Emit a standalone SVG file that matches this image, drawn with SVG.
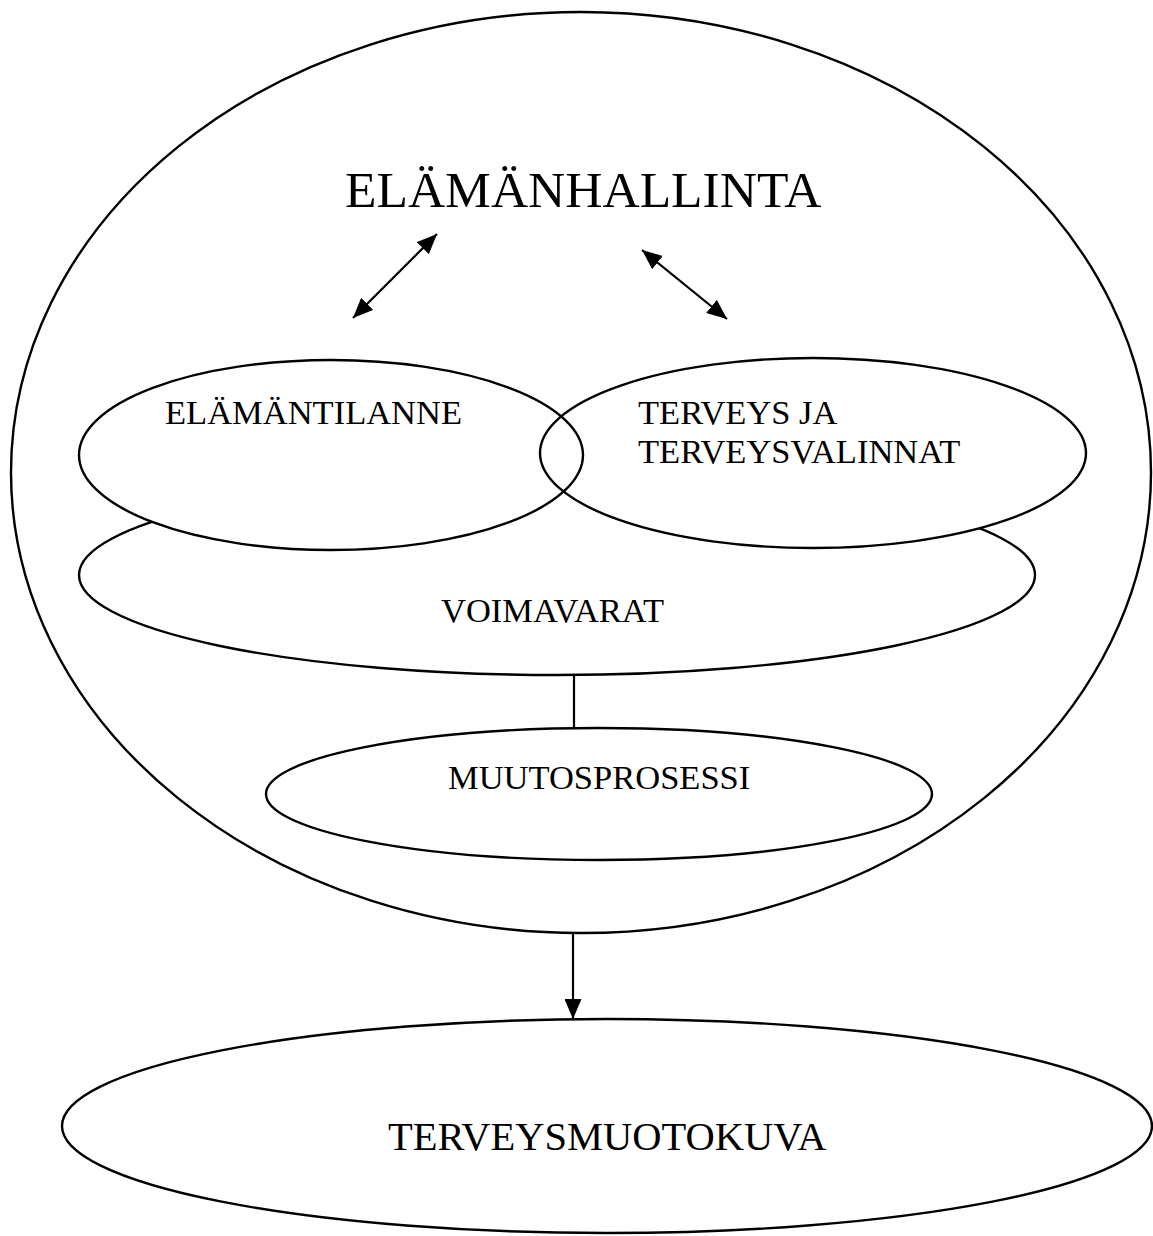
<svg xmlns="http://www.w3.org/2000/svg" width="1153" height="1236" viewBox="0 0 1153 1236">
<style>
.s{fill:none;stroke:#000;stroke-width:2.4}
.t{font-family:"Liberation Serif","Times New Roman",serif;fill:#000;font-size:34.5px}
.c{stroke:#000;stroke-width:2.2;fill:none}
</style>
<defs>
<marker id="ab" viewBox="0 0 10 10" refX="10" refY="5" markerWidth="20" markerHeight="17" markerUnits="userSpaceOnUse" orient="auto-start-reverse" preserveAspectRatio="none">
<path d="M0,0 L10,5 L0,10 z" fill="#000"/>
</marker>
<mask id="m">
<rect x="0" y="0" width="1153" height="1236" fill="#fff"/>
<ellipse cx="331" cy="455" rx="252" ry="95" fill="#000"/>
<ellipse cx="813" cy="453" rx="273" ry="95" fill="#000"/>
</mask>
</defs>
<rect width="1153" height="1236" fill="#fff"/>
<g id="elamanhallinta">
<ellipse class="s" cx="581" cy="472.5" rx="570" ry="460.5"/>
<text class="t" x="345" y="207" style="font-size:51.5px">ELÄMÄNHALLINTA</text>
</g>
<g id="voimavarat">
<ellipse class="s" cx="557" cy="575" rx="478" ry="100" mask="url(#m)"/>
<text class="t" x="441" y="622">VOIMAVARAT</text>
</g>
<g id="elamantilanne">
<ellipse class="s" cx="331" cy="455" rx="252" ry="95"/>
<text class="t" x="165" y="424">ELÄMÄNTILANNE</text>
</g>
<g id="terveys">
<ellipse class="s" cx="813" cy="453" rx="273" ry="95"/>
<text class="t" x="638" y="424">TERVEYS JA</text>
<text class="t" x="638" y="463">TERVEYSVALINNAT</text>
</g>
<g id="muutosprosessi">
<ellipse class="s" cx="599" cy="794" rx="333" ry="66"/>
<text class="t" x="448" y="789">MUUTOSPROSESSI</text>
</g>
<g id="terveysmuotokuva">
<ellipse class="s" cx="607" cy="1126" rx="545" ry="107"/>
<text class="t" x="388" y="1150" style="font-size:40.5px">TERVEYSMUOTOKUVA</text>
</g>
<g id="connectors">
<line class="c" x1="353" y1="318" x2="437" y2="234" marker-start="url(#ab)" marker-end="url(#ab)"/>
<line class="c" x1="642" y1="250" x2="727" y2="319" marker-start="url(#ab)" marker-end="url(#ab)"/>
<line class="c" x1="574" y1="675" x2="574" y2="728"/>
<line class="c" x1="573" y1="933" x2="573" y2="1019" marker-end="url(#ab)"/>
</g>
</svg>
